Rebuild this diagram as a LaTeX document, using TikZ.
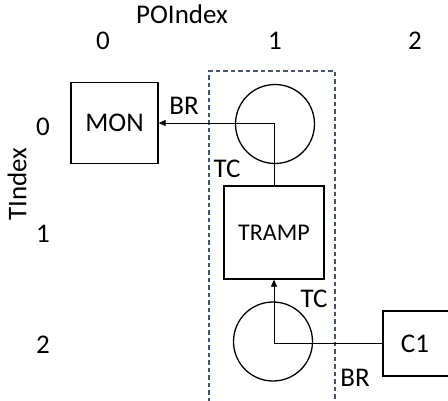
\documentclass[tikz,border=0pt]{standalone}
\usepackage{fontspec}
\setmainfont{Carlito}
\usetikzlibrary{arrows.meta}
\definecolor{dashblue}{RGB}{68,84,106}
\begin{document}
\begin{tikzpicture}[x=1pt,y=-1pt,
  lbl/.style={font=\fontsize{27}{32}\selectfont, inner sep=0pt},
  boxnode/.style={draw, line width=1.3pt, inner sep=0pt, font=\fontsize{27}{32}\selectfont},
  circnode/.style={draw, circle, line width=1.3pt, inner sep=0pt, minimum size=79pt},
  conn/.style={line width=0.8pt},
  arr/.style={conn, -{Triangle[length=7pt,width=6pt]}}]
\useasboundingbox (0,0) rectangle (448,400);
\clip (0,0) rectangle (448,400);
% axis labels
\node[lbl] (poidx) at (182,14) {POIndex};
\node[lbl] (c0) at (103,41) {0};
\node[lbl] (c1) at (275,41) {1};
\node[lbl] (c2) at (415,41) {2};
\node[lbl, rotate=90] (tidx) at (17,184) {TIndex};
\node[lbl] (r0) at (43,127) {0};
\node[lbl] (r1) at (43,234) {1};
\node[lbl] (r2) at (43,345) {2};
% dashed group
\draw[dashblue, line width=1.2pt, dash pattern=on 4.5pt off 3pt] (209,402) -- (209,71) -- (335,71) -- (335,402);
% nodes
\node[boxnode, minimum width=87pt, minimum height=81pt] (mon) at (114.5,123) {MON};
\node[circnode] (top) at (275,124) {};
\node[boxnode, minimum width=100pt, minimum height=93pt, font=\fontsize{24}{28}\selectfont] (tramp) at (274,232.5) {TRAMP};
\node[circnode] (bot) at (273,341.5) {};
\node[boxnode, minimum width=90pt, minimum height=65pt, anchor=west, xshift=-0.65pt] (cone) at (383,343.5) {};
\node[lbl] (conetxt) at (415,343.5) {C1};
% connectors
\draw[arr] (tramp.north) |- (mon.east);
\draw[arr] (cone.west) -| (tramp.south);
% connector labels
\node[lbl] (br1) at (184,106) {BR};
\node[lbl] (tc1) at (227,169) {TC};
\node[lbl] (tc2) at (314,299) {TC};
\node[lbl] (br2) at (355,378) {BR};
\end{tikzpicture}
\end{document}
